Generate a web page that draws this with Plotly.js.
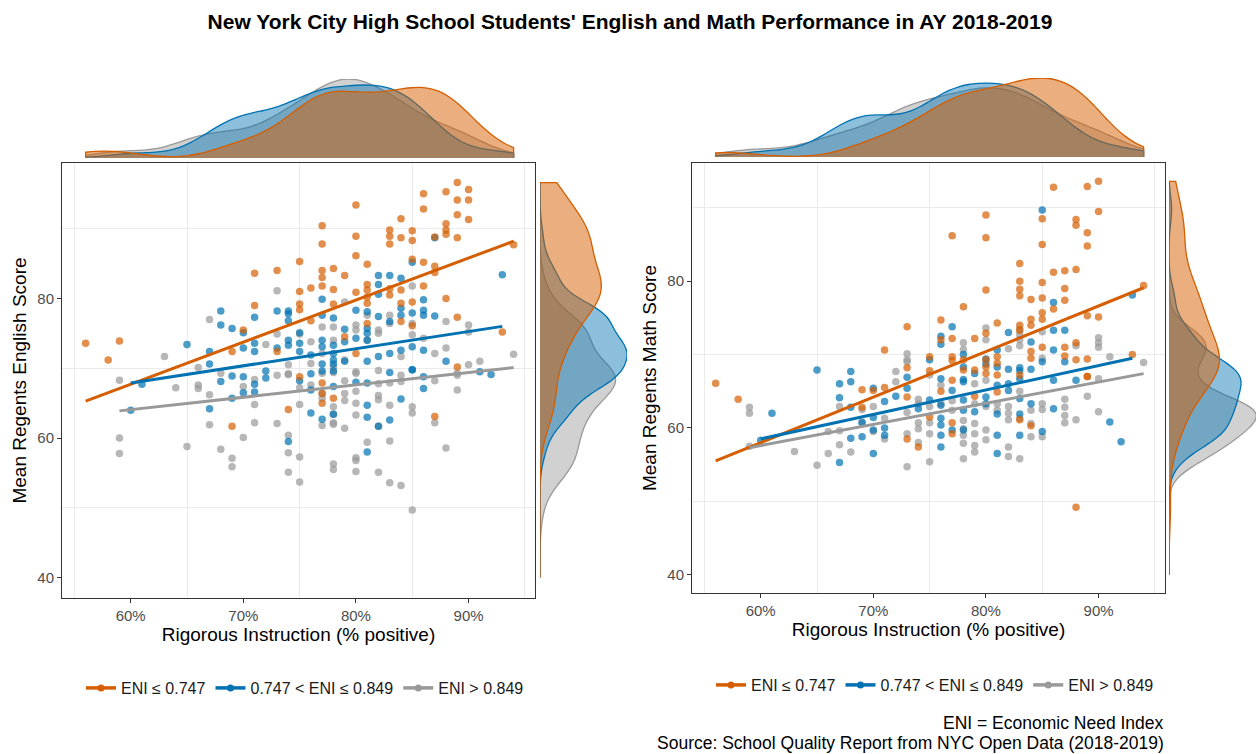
<!DOCTYPE html>
<html><head><meta charset="utf-8">
<script src="https://cdn.plot.ly/plotly-3.0.1.min.js"></script>
<style>html,body{margin:0;padding:0;background:#fff}#chart{width:1257px;height:754px}</style>
</head><body><div id="chart"></div>
<script>
// ---------- DATA (Rigorous Instruction %, mean Regents score) ----------
const groupNames = ['ENI ≤ 0.747', '0.747 < ENI ≤ 0.849', 'ENI > 0.849'];

const engOrange = [[56,73.6],[58,71.2],[59,73.9],[71,83.6],[73,84],[71,79],[75,85.3],[75,81],[75,79.2],[75,78.4],[76,81.5],[77,90.4],[77,87.8],[77,84],[77,83],[77,81.8],[78,84.3],[78,81.3],[78,79.2],[79,83.3],[80,93.4],[80,88.9],[80,86.1],[80,80.9],[81,84.9],[81,82],[81,81.2],[81,80.2],[81,79.3],[83,89.8],[83,88.9],[83,87.8],[83,81.4],[83,80.5],[84,91.4],[84,88.7],[84,81.2],[85,89.7],[85,88.3],[85,85.6],[86,95],[86,92.8],[86,85.2],[86,81.8],[87,88.8],[87,84.6],[87,83.7],[88,90.7],[88,89.8],[88,89.2],[88,95.3],[88,80],[89,96.6],[89,94.1],[89,92],[89,88.7],[89,77.3],[90,95.6],[90,94.1],[90,91.3],[93,75.2],[94,87.7],[69,72.4],[70,75.5],[73,72.4],[76,76.8],[79,74.5],[80,72.1],[81,76.4],[84,79.3],[84,76.7],[85,79.5],[85,76.1],[89,70.2],[69,61.7],[74,64.1],[75,68.8],[77,67.9],[77,66.4],[77,65],[78,65.7],[87,63.1]];
const engBlue = [[65,73.4],[67,72.4],[67,70.6],[68,78.2],[68,76.2],[69,75.7],[70,75.1],[70,72.9],[71,77.3],[71,73.6],[71,72.4],[73,78.2],[73,72.9],[74,78.2],[74,77.8],[74,76.8],[74,74],[74,73.3],[75,75.1],[75,73.6],[75,72.4],[76,71.9],[77,79.9],[77,77.6],[77,74],[77,73.1],[77,70.6],[78,77.2],[78,73.3],[78,72.1],[78,71.2],[78,70.6],[79,75.6],[79,73.8],[79,71],[80,78.3],[80,74.3],[81,78.1],[81,75.7],[81,75],[81,74],[81,71],[82,83.3],[82,82],[82,80.6],[82,77.4],[82,71.7],[83,83.3],[83,76.7],[83,72.1],[84,82.9],[84,78.6],[84,77.6],[84,72.6],[85,85.2],[85,77.9],[85,73.1],[85,69.8],[86,79.8],[86,78.3],[86,77.6],[86,72.6],[87,88.7],[87,77.5],[88,71],[93,83.4],[60,64],[61,67.7],[67,64.2],[68,68.1],[69,68.9],[69,65.7],[70,68.8],[70,66.5],[71,67.7],[71,66.6],[72,69.6],[72,68.6],[74,59.5],[75,68.2],[76,69.2],[76,66.9],[76,63.6],[77,69.6],[77,62.7],[78,69.6],[78,67.4],[78,63.4],[80,68],[81,67.9],[81,64.7],[81,63],[81,58],[82,61.7],[83,69.4],[83,62.6],[84,65.6],[85,69.8],[86,68.8],[86,67.1],[91,69.5],[92,69.1]];
const engGray = [[63,71.7],[66,70.1],[67,77],[68,69.3],[72,73.4],[73,81.1],[73,74.9],[74,70.5],[74,69.1],[75,74.9],[76,73.8],[76,70.7],[77,75.9],[77,72.1],[77,69.3],[78,75.9],[78,74],[78,70.2],[79,79.5],[79,71.2],[80,76.2],[80,75.5],[80,69.3],[81,77.6],[81,74],[82,75.5],[82,75],[82,69.7],[83,77.6],[83,76.4],[84,71.7],[85,81.8],[85,76.4],[85,74.8],[86,74.3],[87,72.1],[88,76.7],[88,72.9],[89,69.3],[90,76.2],[90,75.2],[90,70.5],[91,71],[94,72],[59,68.3],[59,60],[59,57.8],[64,67.2],[65,58.8],[66,67.6],[66,67.1],[67,66.2],[67,61.9],[68,58.4],[69,57.1],[69,55.9],[70,67.4],[70,60.1],[71,68.4],[71,64.8],[71,62.2],[73,69],[73,62.1],[74,69.2],[74,60.4],[74,57.9],[74,55.1],[75,67.2],[75,64.8],[75,57.3],[75,53.7],[76,67.6],[77,61.8],[77,66.4],[77,65.7],[78,69.4],[78,64.5],[78,63.4],[78,62.2],[78,62],[78,56.3],[78,55.5],[79,68.2],[79,66.4],[79,65.4],[79,61.4],[80,69.5],[80,66.7],[80,65],[80,63.3],[80,57.2],[80,56.8],[80,55.2],[81,59.4],[82,67.8],[82,66.1],[82,65.5],[82,61.7],[82,55.1],[83,67.9],[83,64.7],[83,59.6],[83,53.6],[84,69],[84,68.1],[84,53.2],[85,64.5],[85,63.6],[85,49.7],[87,68.2],[87,62.2],[88,58.6],[89,69],[89,66.9]];

const mathOrange = [[56,66.1],[71,70.6],[73,73.8],[73,68.2],[75,69.7],[75,67.8],[76,74.7],[76,72],[77,86.2],[77,72.2],[77,69.7],[77,69.2],[78,76.5],[78,69.3],[78,67.9],[79,72.2],[79,67.9],[80,89],[80,85.9],[80,78.8],[80,72.9],[80,69.3],[80,68.3],[80,67.4],[81,74.3],[81,69.7],[81,68.8],[81,67.2],[83,82.4],[83,80],[83,78.9],[83,78],[83,74],[83,73.3],[83,67.2],[84,77.5],[84,74.8],[84,74],[84,70.4],[84,69.5],[85,88.5],[85,85],[85,79.8],[85,77.7],[85,75.7],[85,74.8],[85,71],[86,92.8],[86,81.2],[86,76.2],[87,81.4],[87,79],[87,77.4],[87,71],[87,69.8],[88,81.6],[88,88.4],[88,87.6],[88,71.6],[88,69.3],[89,92.9],[89,86.6],[89,84.8],[89,75.3],[89,69.4],[89,67],[90,93.6],[90,89.5],[90,75.1],[93,70],[94,79.4],[58,63.9],[69,65.2],[69,62.8],[70,65.1],[71,65.5],[73,64.2],[73,58.5],[74,57.4],[75,61.5],[76,65],[77,66.5],[77,60.7],[77,59.2],[79,64.3],[81,64.9],[83,61.1],[84,60.3],[88,49.2],[89,67]];
const mathBlue = [[65,67.9],[68,67.7],[73,66.9],[75,69.3],[76,72.5],[76,71.4],[76,66.7],[77,73.8],[78,70],[78,68.3],[78,66.6],[79,67.4],[80,69.4],[80,68.7],[81,70.6],[81,68.3],[82,73],[82,68],[83,68.2],[83,67.8],[83,66.7],[84,71.7],[84,68],[85,89.7],[85,69],[86,77.1],[86,73.3],[86,70.6],[87,73.3],[87,69],[93,78.1],[60,58.3],[61,62],[67,66],[67,64.1],[67,55.3],[68,66.3],[68,62.8],[68,58.6],[69,60.7],[69,58.8],[70,65.4],[70,61.4],[70,59.7],[70,56.5],[71,63.6],[71,60],[71,59],[72,64.3],[73,65.4],[74,62.6],[75,63.8],[76,63.1],[76,61.3],[76,60.4],[76,59],[76,57.4],[77,65.1],[77,59.7],[78,66.3],[78,63.8],[78,62.4],[78,59.7],[79,62.2],[80,64.2],[80,63.3],[81,65.8],[81,61.9],[81,59],[81,56.5],[82,66],[82,65.1],[83,64],[83,61.9],[83,59],[84,63.3],[85,59.5],[86,66.5],[86,62.6],[88,66.5],[91,60.8],[92,58.1]];
const mathGray = [[72,67.7],[73,70.1],[73,69.3],[73,69],[75,67.2],[78,71.6],[78,70.7],[80,73.6],[80,72],[82,70.8],[83,73.4],[83,72.7],[83,72],[83,71.2],[85,73.1],[85,69.5],[88,71.2],[90,72.3],[90,71.6],[90,71],[91,69.7],[94,68.9],[59,62.8],[59,62],[59,57.5],[63,56.8],[65,54.9],[66,59.5],[66,56.5],[67,62.9],[67,59.6],[67,57.7],[68,56.7],[69,62.5],[69,60.8],[70,62.9],[70,59.5],[71,61.3],[71,58.5],[72,66.3],[73,62.1],[73,59.2],[73,54.7],[74,63.9],[74,63.3],[74,60.7],[74,59.9],[74,58],[75,62.9],[75,60.7],[75,59.2],[75,55.4],[76,65.8],[76,63.3],[77,63.7],[77,62.4],[78,61],[78,59.9],[78,59],[78,57.9],[78,55.8],[79,66],[79,63.3],[79,60.6],[79,59.2],[79,57.6],[79,56.7],[80,66.5],[80,62.9],[80,59.7],[80,58.4],[81,63.3],[81,62.4],[82,62.9],[82,62],[82,61.1],[82,57.4],[82,56.1],[83,65],[83,61.3],[83,55.8],[84,62.4],[84,60.6],[84,58.8],[85,63.3],[85,62.5],[85,58.8],[87,63.9],[87,62.8],[87,61.7],[87,60.7],[88,61.1],[89,64.3],[90,62.2],[90,66.7]];

// fitted regression lines (start/end)
const engFitOrange = [[56,65.3],[94,88.2]];
const engFitBlue   = [[60,67.9],[93,76.0]];
const engFitGray   = [[59,63.9],[94,70.1]];
const mathFitOrange = [[56,55.5],[94,79.1]];
const mathFitBlue   = [[60,58.5],[93,69.5]];
const mathFitGray   = [[59,57.3],[94,67.4]];

const scoreLowerLimit = 40;   // lower limit of score scale

// ---------- STYLE ----------
const W = 1257, H = 754;
const FONT = 'Liberation Sans, Arial, Helvetica, sans-serif';
const colors = ['#D55E00', '#0072B2', '#999999'];
const fills = ['rgba(213,94,0,0.5)', 'rgba(0,114,178,0.45)', 'rgba(153,153,153,0.45)'];
const pointColors = ['rgba(213,94,0,0.7)', 'rgba(0,114,178,0.7)', 'rgba(153,153,153,0.7)'];

// bandwidth (R's nrd0) and peak of a Gaussian KDE, used to size the violins relative to each other
function nrd0(a) {
  const n = a.length, s = [...a].sort((p, q) => p - q);
  const mean = a.reduce((p, q) => p + q, 0) / n;
  const sd = Math.sqrt(a.reduce((p, q) => p + (q - mean) ** 2, 0) / (n - 1));
  const qt = p => { const h = (n - 1) * p, lo = Math.floor(h); return s[lo] + (h - lo) * (s[Math.min(lo + 1, n - 1)] - s[lo]); };
  let lo = Math.min(sd, (qt(0.75) - qt(0.25)) / 1.34);
  if (!lo) lo = sd || 1;
  return 0.9 * lo * Math.pow(n, -0.2);
}
function kdePeak(a, bw, span) {
  let best = 0;
  for (let i = 0; i <= 600; i++) {
    const x = span[0] + (span[1] - span[0]) * i / 600;
    let s = 0;
    a.forEach(v => { const u = (x - v) / bw; s += Math.exp(-0.5 * u * u); });
    best = Math.max(best, s / (a.length * bw * Math.sqrt(2 * Math.PI)));
  }
  return best;
}

const panels = [
  { groups: [engOrange, engBlue, engGray], fits: [engFitOrange, engFitBlue, engFitGray],
    main: ['x', 'y'], top: ['x2', 'y2'], side: ['x3', 'y3'], legend: 'legend', sg: 'eng' },
  { groups: [mathOrange, mathBlue, mathGray], fits: [mathFitOrange, mathFitBlue, mathFitGray],
    main: ['x4', 'y4'], top: ['x5', 'y5'], side: ['x6', 'y6'], legend: 'legend2', sg: 'math' }
];

const traces = [];
const drawOrder = [2, 1, 0];
panels.forEach(p => {
  const allX = p.groups.flat().map(d => d[0]);
  const allY = p.groups.flat().map(d => d[1]);
  const xSpan = [Math.min(...allX), Math.max(...allX)];
  const ySpan = [scoreLowerLimit, Math.max(...allY)];
  const xs = p.groups.map(g => g.map(d => d[0]));
  const ys = p.groups.map(g => g.map(d => d[1]));
  const bwX = xs.map(nrd0), bwY = ys.map(nrd0);
  const pkX = xs.map((a, i) => kdePeak(a, bwX[i], xSpan));
  const pkY = ys.map((a, i) => kdePeak(a, bwY[i], ySpan));
  const mX = Math.max(...pkX), mY = Math.max(...pkY);
  // marginal densities
  drawOrder.forEach(g => {
    traces.push({ type: 'violin', orientation: 'h', x: xs[g], y0: 0, side: 'positive', width: 2 * pkX[g] / mX,
      points: false, box: { visible: false }, meanline: { visible: false },
      spanmode: 'manual', span: xSpan, bandwidth: bwX[g], scalegroup: p.sg + 'top' + g, scalemode: 'width',
      line: { color: colors[g], width: 1.3 }, fillcolor: fills[g], hoverinfo: 'skip', showlegend: false,
      xaxis: p.top[0], yaxis: p.top[1] });
    traces.push({ type: 'violin', orientation: 'v', y: ys[g], x0: 0, side: 'positive', width: 2 * pkY[g] / mY,
      points: false, box: { visible: false }, meanline: { visible: false },
      spanmode: 'manual', span: ySpan, bandwidth: bwY[g], scalegroup: p.sg + 'side' + g, scalemode: 'width',
      line: { color: colors[g], width: 1.3 }, fillcolor: fills[g], hoverinfo: 'skip', showlegend: false,
      xaxis: p.side[0], yaxis: p.side[1] });
  });
  // points
  drawOrder.forEach(g => {
    traces.push({ type: 'scatter', mode: 'markers', x: xs[g], y: ys[g],
      marker: { color: pointColors[g], size: 7.5, line: { width: 0 } }, showlegend: false, hoverinfo: 'x+y',
      xaxis: p.main[0], yaxis: p.main[1] });
  });
  // fit lines
  [0, 1, 2].forEach(g => {
    traces.push({ type: 'scatter', mode: 'lines', x: p.fits[g].map(d => d[0]), y: p.fits[g].map(d => d[1]),
      line: { color: colors[g], width: 3 }, showlegend: false, hoverinfo: 'skip',
      xaxis: p.main[0], yaxis: p.main[1] });
  });
  // legend entries
  [0, 1, 2].forEach(g => {
    traces.push({ type: 'scatter', mode: 'lines+markers', x: [null], y: [null], name: groupNames[g],
      line: { color: colors[g], width: 3.5 }, marker: { color: colors[g], size: 7 },
      legend: p.legend, showlegend: true, xaxis: p.main[0], yaxis: p.main[1] });
  });
});

const axBase = { zeroline: false, showline: true, linecolor: '#333', linewidth: 1, mirror: true,
  ticks: 'outside', ticklen: 4, tickcolor: '#333', tickfont: { size: 15, color: '#4d4d4d', family: FONT },
  showgrid: false };
const hid = { visible: false, showgrid: false, zeroline: false, fixedrange: true };
const xMain = (dom, anchor) => Object.assign({}, axBase, { domain: dom, anchor: anchor, range: [53.9, 95.9],
  tickmode: 'linear', tick0: 60, dtick: 10, ticksuffix: '%',
  minor: { tick0: 55, dtick: 10, showgrid: true, gridcolor: '#ebebeb', gridwidth: 1 },
  title: { text: 'Rigorous Instruction (% positive)', font: { size: 19, color: '#000', family: FONT }, standoff: 3 } });
const yMain = (dom, anchor, rng, title) => Object.assign({}, axBase, { domain: dom, anchor: anchor, range: rng,
  tickmode: 'linear', tick0: 0, dtick: 20,
  minor: { tick0: 50, dtick: 20, showgrid: true, gridcolor: '#ebebeb', gridwidth: 1 },
  title: { text: title, font: { size: 19, color: '#000', family: FONT }, standoff: 5 } });

const engY = [37.1, 99.4], mathY = [37.5, 96.1];
const layout = {
  width: W, height: H, margin: { l: 0, r: 0, t: 0, b: 0 },
  paper_bgcolor: '#fff', plot_bgcolor: '#fff', font: { family: FONT },
  violinmode: 'overlay',
  title: { text: "<b>New York City High School Students' English and Math Performance in AY 2018-2019</b>",
    x: 630 / W, xanchor: 'center', y: 1 - 22 / H, yanchor: 'middle', font: { size: 21, color: '#000', family: FONT } },
  xaxis: xMain([62 / W, 535 / W], 'y'),
  yaxis: yMain([1 - 598 / H, 1 - 163 / H], 'x', engY, 'Mean Regents English Score'),
  xaxis2: Object.assign({}, hid, { domain: [62 / W, 535 / W], range: [53.9, 95.9], anchor: 'y2' }),
  yaxis2: Object.assign({}, hid, { domain: [1 - 158 / H, 1 - 79 / H], range: [0, 1], anchor: 'x2' }),
  xaxis3: Object.assign({}, hid, { domain: [540 / W, 627 / W], range: [0, 1], anchor: 'y3' }),
  yaxis3: Object.assign({}, hid, { domain: [1 - 598 / H, 1 - 163 / H], range: engY, anchor: 'x3' }),
  xaxis4: xMain([692 / W, 1165 / W], 'y4'),
  yaxis4: yMain([1 - 593 / H, 1 - 163 / H], 'x4', mathY, 'Mean Regents Math Score'),
  xaxis5: Object.assign({}, hid, { domain: [692 / W, 1165 / W], range: [53.9, 95.9], anchor: 'y5' }),
  yaxis5: Object.assign({}, hid, { domain: [1 - 157 / H, 1 - 78 / H], range: [0, 1], anchor: 'x5' }),
  xaxis6: Object.assign({}, hid, { domain: [1169 / W, 1256 / W], range: [0, 1], anchor: 'y6' }),
  yaxis6: Object.assign({}, hid, { domain: [1 - 593 / H, 1 - 163 / H], range: mathY, anchor: 'x6' }),
  legend: { orientation: 'h', x: 305 / W, xanchor: 'center', y: 1 - 688 / H, yanchor: 'middle', itemwidth: 30,
    font: { size: 16, color: '#1a1a1a', family: FONT }, bgcolor: 'rgba(0,0,0,0)' },
  legend2: { orientation: 'h', x: 935 / W, xanchor: 'center', y: 1 - 685 / H, yanchor: 'middle', itemwidth: 30,
    font: { size: 16, color: '#1a1a1a', family: FONT }, bgcolor: 'rgba(0,0,0,0)' },
  annotations: [
    { text: 'ENI = Economic Need Index', xref: 'paper', yref: 'paper', x: 1166 / W, y: 1 - 723 / H,
      xanchor: 'right', yanchor: 'middle', showarrow: false, font: { size: 17.5, color: '#000', family: FONT } },
    { text: 'Source: School Quality Report from NYC Open Data (2018-2019)', xref: 'paper', yref: 'paper',
      x: 1166 / W, y: 1 - 743 / H, xanchor: 'right', yanchor: 'middle', showarrow: false,
      font: { size: 17.5, color: '#000', family: FONT } }
  ],
  showlegend: true
};

Plotly.newPlot('chart', traces, layout, { displayModeBar: false, staticPlot: true });
</script>
</body></html>
